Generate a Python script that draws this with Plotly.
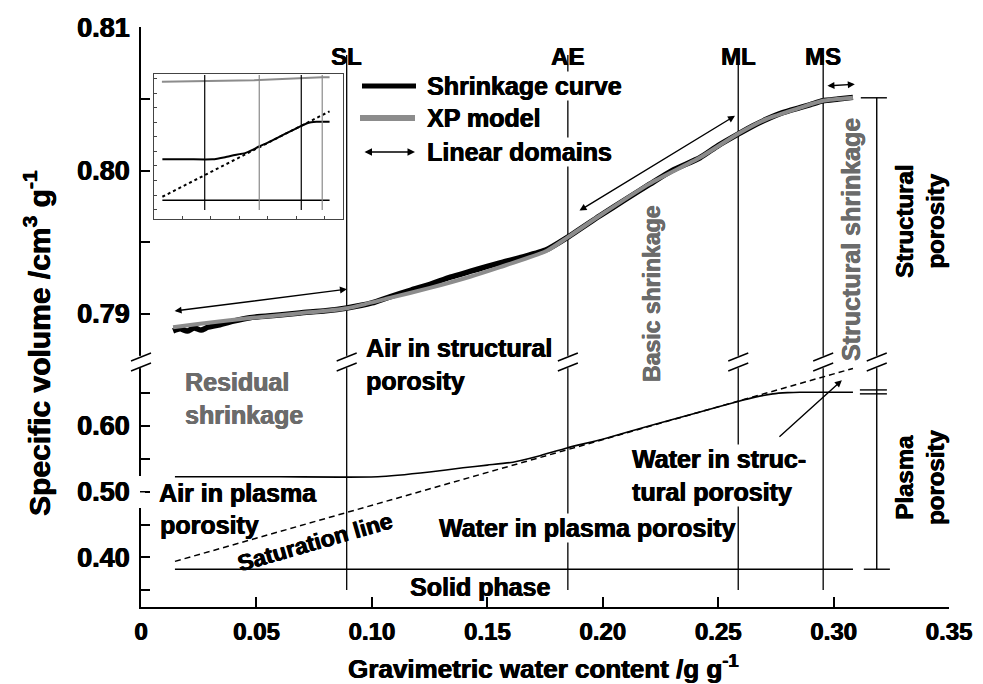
import plotly.graph_objects as go

# ---------------- data ----------------
# Shrinkage curve (measured) - specific volume vs water content (upper panel)
x_shrink = [0.0139, 0.0170, 0.0200, 0.0230, 0.0260, 0.0290, 0.0330, 0.0400, 0.0472, 0.0600,
            0.0689, 0.0800, 0.0892, 0.1000, 0.1078, 0.1170, 0.1252, 0.1340, 0.1425, 0.1500,
            0.1555, 0.1650, 0.1758, 0.1849, 0.1988, 0.2100, 0.2204, 0.2300, 0.2421, 0.2500,
            0.2586, 0.2650, 0.2711, 0.2780, 0.2854, 0.2900, 0.2954, 0.3020, 0.3084]
v_shrink = [0.78880, 0.78895, 0.78878, 0.78900, 0.78885, 0.78905, 0.78918, 0.78948, 0.78972, 0.78990,
            0.79005, 0.79020, 0.79040, 0.79075, 0.79118, 0.79165, 0.79205, 0.79255, 0.79295, 0.79330,
            0.79355, 0.79395, 0.79448, 0.79535, 0.79684, 0.79800, 0.79905, 0.80000, 0.80090, 0.80175,
            0.80255, 0.80312, 0.80360, 0.80405, 0.80440, 0.80462, 0.80488, 0.80500, 0.80512]

# XP model
x_xp = [0.0139, 0.0256, 0.0472, 0.0689, 0.0892, 0.1078, 0.1252, 0.1425, 0.1555, 0.1758,
        0.1849, 0.1988, 0.2204, 0.2421, 0.2586, 0.2711, 0.2854, 0.2954, 0.3084]
v_xp = [0.78905, 0.78930, 0.78969, 0.79003, 0.79038, 0.79110, 0.79180, 0.79258, 0.79325, 0.79440,
        0.79535, 0.79686, 0.79909, 0.80091, 0.80258, 0.80362, 0.80439, 0.80488, 0.80509]

# Lower panel: plasma volume curve, saturation line, solid phase
x_low = [0.0147, 0.0600, 0.1026, 0.1250, 0.1395, 0.1500, 0.1611, 0.1720, 0.1845, 0.2000,
         0.2200, 0.2421, 0.2586, 0.2660, 0.2737, 0.2800, 0.2854, 0.3084]
v_low = [0.5227, 0.5227, 0.5227, 0.5300, 0.5364, 0.5405, 0.5450, 0.5540, 0.5667, 0.5800,
         0.6000, 0.6214, 0.6375, 0.6440, 0.6490, 0.6508, 0.6515, 0.6515]
x_sat = [0.0147, 0.3084]
v_sat = [0.394, 0.6877]
x_solid = [0.0147, 0.3084]
v_solid = [0.382, 0.382]

# Characteristic points
mark_x = [0.0891, 0.1849, 0.2587, 0.2955]
mark_lab = ["SL", "AE", "ML", "MS"]
mark_inset_col = ["black", "#8a8a8a", "black", "#8a8a8a"]

# Linear domains (double arrows) on upper panel
lin_x0 = [0.0139, 0.1893, 0.2967]
lin_v0 = [0.79017, 0.79714, 0.80592]
lin_x1 = [0.0892, 0.2573, 0.3092]
lin_v1 = [0.79171, 0.80383, 0.80604]

bracket_x = 0.3187

# ticks
x_ticks = [0, 0.05, 0.10, 0.15, 0.20, 0.25, 0.30, 0.35]
x_ticklab = ["0", "0.05", "0.10", "0.15", "0.20", "0.25", "0.30", "0.35"]
ylo_ticks = [0.35, 0.40, 0.45, 0.50, 0.55, 0.60, 0.65]
ylo_lab = ["", "0.40", "", "0.50", "", "0.60", ""]
yup_ticks = [0.79, 0.795, 0.80, 0.805, 0.81]
yup_lab = ["0.79", "", "0.80", "", "0.81"]

# ---------------- layout helpers ----------------
W, H = 983, 684
L, R, T, B = 141, 949, 27, 607
XR = 0.35
BRK = 362


def px(x):
    return (x - L) / (R - L)


def py(y):
    return (B - y) / (B - T)


dx_data = 10 / (R - L) * XR
FONT = "Liberation Sans, Arial, sans-serif"
GRAY = "#6b6b6b"
low_dom = py(BRK)


def heavy(color):
    return f"0.6px 0 0 {color}, -0.3px 0 0 {color}"


fig = go.Figure()

# main traces
fig.add_trace(go.Scatter(x=x_shrink, y=v_shrink, mode="lines", yaxis="y2",
                         line=dict(color="black", width=5.5, shape="spline", smoothing=0.6),
                         name="Shrinkage curve"))
fig.add_trace(go.Scatter(x=x_xp, y=v_xp, mode="lines", yaxis="y2",
                         line=dict(color="#8c8c8c", width=4, shape="spline", smoothing=0.6),
                         name="XP model"))
fig.add_trace(go.Scatter(x=x_low, y=v_low, mode="lines", yaxis="y",
                         line=dict(color="black", width=1.6, shape="spline", smoothing=0.5)))
fig.add_trace(go.Scatter(x=x_sat, y=v_sat, mode="lines", yaxis="y",
                         line=dict(color="black", width=1.5, dash="6px,4px")))
fig.add_trace(go.Scatter(x=x_solid, y=v_solid, mode="lines", yaxis="y",
                         line=dict(color="black", width=1.5)))

# inset traces
fig.add_trace(go.Scatter(x=x_xp, y=v_xp, mode="lines", xaxis="x3", yaxis="y3",
                         line=dict(color="#8c8c8c", width=2)))
fig.add_trace(go.Scatter(x=x_low, y=v_low, mode="lines", xaxis="x3", yaxis="y3",
                         line=dict(color="black", width=2, shape="spline", smoothing=0.5)))
fig.add_trace(go.Scatter(x=x_sat, y=v_sat, mode="lines", xaxis="x3", yaxis="y3",
                         line=dict(color="black", width=2, dash="3px,3px")))
fig.add_trace(go.Scatter(x=x_solid, y=v_solid, mode="lines", xaxis="x3", yaxis="y3",
                         line=dict(color="black", width=1.5)))

shapes = []
ann = []

# vertical characteristic lines
for xv, lab, ic in zip(mark_x, mark_lab, mark_inset_col):
    shapes.append(dict(type="line", xref="x", yref="paper", x0=xv, x1=xv,
                       y0=py(590), y1=py(55), line=dict(color="black", width=1.3), layer="below"))
    ann.append(dict(x=xv, xref="x", y=py(41), yref="paper", text=lab, showarrow=False,
                    font=dict(family=FONT, size=24, color="black", weight="bold", shadow=heavy("black"))))
    shapes.append(dict(type="line", xref="x3", yref="y3 domain", x0=xv, x1=xv,
                       y0=0.062, y1=0.993, line=dict(color=ic, width=1.2)))

# brackets on right
top_v = v_xp[-1]
mid_v = v_low[-1]
sol_v = v_solid[0]
bl = dict(color="black", width=1.4)
shapes += [
    dict(type="line", xref="x", yref="y2", x0=bracket_x, x1=bracket_x, y0=0.7866, y1=top_v, line=bl),
    dict(type="line", xref="x", yref="y", x0=bracket_x, x1=bracket_x, y0=sol_v, y1=0.6975, line=bl),
    dict(type="line", xref="x", yref="y2", x0=bracket_x - 0.0069, x1=bracket_x + 0.0044, y0=top_v, y1=top_v, line=bl),
    dict(type="line", xref="x", yref="y", x0=bracket_x - 0.0073, x1=bracket_x + 0.0044, y0=mid_v + 0.0035, y1=mid_v + 0.0035, line=bl),
    dict(type="line", xref="x", yref="y", x0=bracket_x - 0.0073, x1=bracket_x + 0.0044, y0=mid_v - 0.0025, y1=mid_v - 0.0025, line=bl),
    dict(type="line", xref="x", yref="y", x0=bracket_x - 0.0056, x1=bracket_x + 0.0057, y0=sol_v, y1=sol_v, line=bl),
]

# axis breaks
yc1, yc2, dyp = py(BRK - 5), py(BRK + 5), 4 / (B - T)
for xv in [0] + mark_x + [bracket_x]:
    if xv == 0:
        xr, xa, dxx = "paper", 0.0, 10 / (R - L)
    else:
        xr, xa, dxx = "x", xv, dx_data
    shapes.append(dict(type="line", xref=xr, yref="paper", x0=xa, x1=xa, y0=yc2 - 0.002, y1=yc1 + 0.002,
                       line=dict(color="white", width=5)))
    for yc in (yc1, yc2):
        shapes.append(dict(type="line", xref=xr, yref="paper", x0=xa - dxx, x1=xa + dxx,
                           y0=yc - dyp, y1=yc + dyp, line=dict(color="black", width=1.4)))

# hide y-axis line behind "Air in plasma" and redraw its tick
shapes.append(dict(type="rect", xref="paper", yref="paper", x0=px(137), x1=px(145),
                   y0=py(508), y1=py(476), fillcolor="white", line=dict(width=0)))
shapes.append(dict(type="line", xref="paper", yref="y", x0=px(140), x1=px(150), y0=0.5, y1=0.5,
                   line=dict(color="black", width=1.5)))

# legend (manual)
shapes.append(dict(type="line", xref="paper", yref="paper", x0=px(362), x1=px(416), y0=py(86), y1=py(86),
                   line=dict(color="black", width=5)))
shapes.append(dict(type="line", xref="paper", yref="paper", x0=px(360), x1=px(415), y0=py(118), y1=py(118),
                   line=dict(color="#8c8c8c", width=6)))
ann.append(dict(x=px(415), y=py(152), xref="paper", yref="paper", ax=-52, ay=0,
                axref="pixel", ayref="pixel", text="", showarrow=True, arrowhead=2, startarrowhead=2,
                arrowside="end+start", arrowsize=1, arrowwidth=1.5, arrowcolor="black"))


def txt(text, x, y, size=25, color="black", xanchor="center", align="center", angle=0,
        bg=None, xref="paper", yref="paper"):
    d = dict(text=text, x=x, y=y, xref=xref, yref=yref, showarrow=False, xanchor=xanchor,
             yanchor="middle", align=align, textangle=angle,
             font=dict(family=FONT, size=size, color=color, weight="bold", shadow=heavy(color)))
    if bg:
        d["bgcolor"] = bg
        d["borderpad"] = 0
    return d


ann += [
    txt("Shrinkage curve", px(426), py(86), xanchor="left", bg="white"),
    txt("XP model", px(426), py(118), xanchor="left", bg="white"),
    txt("Linear domains", px(426), py(152), xanchor="left", bg="white"),
    txt("Air in structural<br>porosity", px(364), py(365), xanchor="left", align="left"),
    txt("Residual<br>shrinkage", px(183), py(399), xanchor="left", align="left", color=GRAY),
    txt("Air in plasma", px(158), py(493), xanchor="left", bg="white"),
    txt("porosity", px(158), py(525), xanchor="left"),
    txt("Saturation line", px(315), py(542), size=23, angle=-16),
    txt("Water in plasma porosity", px(587), py(528), bg="white"),
    txt("Water in struc-<br>tural porosity", px(631), py(475), xanchor="left", align="left", bg="white"),
    txt("Solid phase", px(480), py(587)),
    txt("Basic shrinkage", px(652), py(294), size=23, color=GRAY, angle=-90),
    txt("Structural shrinkage", px(851), py(240), size=25, color=GRAY, angle=-90),
    txt("Structural<br>porosity", px(920), py(222), size=24, angle=-90),
    txt("Plasma<br>porosity", px(920), py(478), size=24, angle=-90),
    txt("Specific volume /cm<sup>3</sup> g<sup>-1</sup>", px(37), py(343), size=30, angle=-90),
    txt("Gravimetric water content /g g<sup>-1</sup>", px(543), py(667), size=26),
]

# linear domain arrows
for a0, b0, a1, b1 in zip(lin_x0, lin_v0, lin_x1, lin_v1):
    ann.append(dict(x=a1, y=b1, ax=a0, ay=b0, xref="x", yref="y2", axref="x", ayref="y2",
                    text="", showarrow=True, arrowhead=2, startarrowhead=2, arrowside="end+start",
                    arrowsize=1, arrowwidth=1.4, arrowcolor="black", standoff=0, startstandoff=0))
# arrow to water in structural porosity
ann.append(dict(x=0.3036, y=0.6697, ax=0.2759, ay=0.5818, xref="x", yref="y", axref="x", ayref="y",
                text="", showarrow=True, arrowhead=2, arrowsize=1, arrowwidth=1.4, arrowcolor="black"))

tickfont_x = dict(family=FONT, size=24, color="black", weight="bold", shadow=heavy("black"))
tickfont_y = dict(family=FONT, size=27, color="black", weight="bold", shadow=heavy("black"))

fig.update_layout(
    width=W, height=H,
    margin=dict(l=L, r=W - R, t=T, b=H - B, pad=0),
    paper_bgcolor="white", plot_bgcolor="white",
    showlegend=False,
    xaxis=dict(domain=[0, 1], range=[0, XR], anchor="y", showline=True, linecolor="black", linewidth=2,
               ticks="inside", ticklen=10, tickwidth=1.5, tickcolor="black",
               tickvals=x_ticks, ticktext=x_ticklab, tickfont=tickfont_x, ticklabelstandoff=2,
               showgrid=False, zeroline=False),
    yaxis=dict(domain=[0, low_dom], range=[0.3245, 0.6975], anchor="x", showline=True, linecolor="black",
               linewidth=2, ticks="inside", ticklen=9, tickwidth=1.5, tickcolor="black",
               tickvals=ylo_ticks, ticktext=ylo_lab, tickfont=tickfont_y, ticklabelstandoff=4,
               showgrid=False, zeroline=False),
    yaxis2=dict(domain=[low_dom, 1], range=[0.78662, 0.81004], anchor="x", showline=True, linecolor="black",
                linewidth=2, ticks="inside", ticklen=9, tickwidth=1.5, tickcolor="black",
                tickvals=yup_ticks, ticktext=yup_lab, tickfont=tickfont_y, ticklabelstandoff=4,
                showgrid=False, zeroline=False),
    xaxis3=dict(domain=[px(154), px(343)], range=[0, 0.332], anchor="y3", showline=True, mirror=True,
                linecolor="#444", linewidth=1, ticks="inside", ticklen=3, tickcolor="#444",
                tick0=0.05, dtick=0.05, showticklabels=False, showgrid=False, zeroline=False),
    yaxis3=dict(domain=[py(219), py(74)], range=[0.3175, 0.816], anchor="x3", showline=True, mirror=True,
                linecolor="#444", linewidth=1, ticks="inside", ticklen=3, tickcolor="#444",
                tick0=0.35, dtick=0.05, showticklabels=False, showgrid=False, zeroline=False),
    shapes=shapes,
    annotations=ann,
)

fig.write_html("out.html", config={"displayModeBar": False},
               post_script="document.body.style.margin='0';document.body.style.padding='0';")
